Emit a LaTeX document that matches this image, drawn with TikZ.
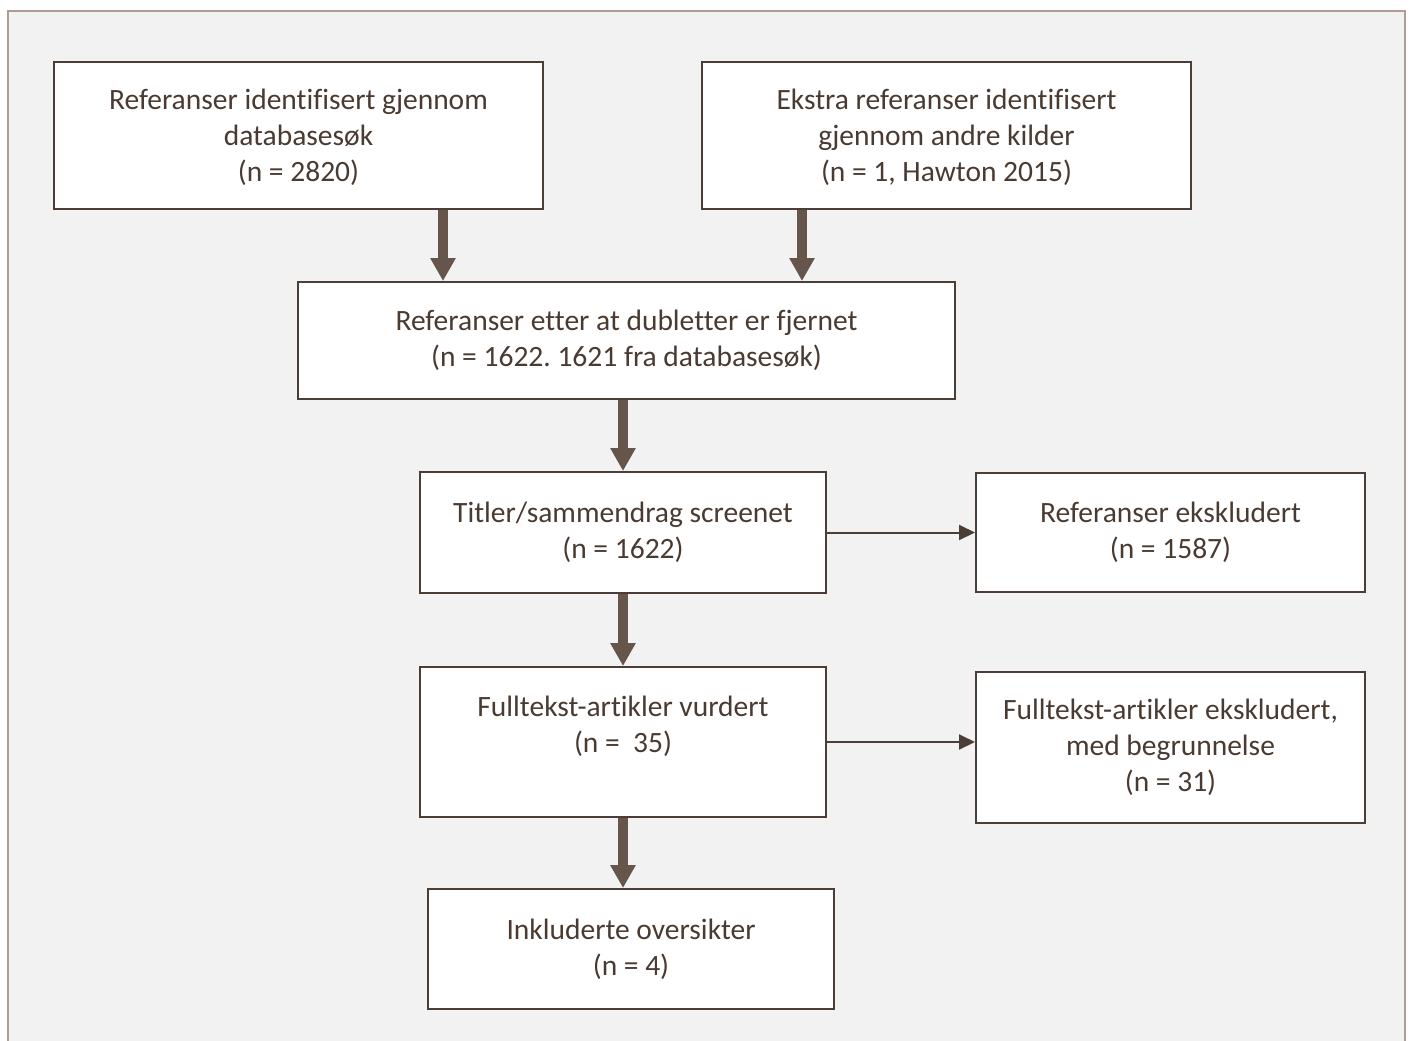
\documentclass[tikz,border=0pt]{standalone}
\usepackage{fontspec}
\setmainfont{Carlito}[Ligatures=CommonOff]
\usetikzlibrary{arrows.meta}
\frenchspacing
\definecolor{framegray}{HTML}{B09C94}
\definecolor{panel}{HTML}{F2F2F2}
\definecolor{boxline}{HTML}{4B3E36}
\definecolor{arrowbrown}{HTML}{66554A}
\definecolor{textbrown}{HTML}{4A3B32}
\begin{document}
\begin{tikzpicture}[x=1pt, y=-1pt, every node/.style={align=center}]
\tikzset{
  stagebox/.style={draw=boxline, line width=2pt, fill=white, inner sep=0pt,
    text=textbrown, font=\fontsize{29.5}{36}\selectfont},
  fatarrow/.style={draw=arrowbrown, line width=10pt,
    -{Triangle[width=24pt, length=23pt]}},
  thinarrow/.style={draw=boxline, line width=2pt,
    -{Triangle[width=15pt, length=16pt]}}
}
\useasboundingbox (0,0) rectangle (1413,1041);
\fill[white] (0,0) rectangle (1413,1041);
\fill[panel] (8,11) rectangle (1405,1045);
\draw[framegray, line width=2pt] (8,1045) -- (8,11) -- (1405,11) -- (1405,1045);

% boxes
\node[stagebox, minimum width=489pt, minimum height=147pt] (search) at (298.5,135.5)
  {Referanser identifisert gjennom\\databasesøk\\\smash{(n = 2820)}};
\node[stagebox, minimum width=489pt, minimum height=147pt] (other) at (946.5,135.5)
  {Ekstra referanser identifisert\\gjennom andre kilder\\\smash{(n = 1, Hawton 2015)}};
\node[stagebox, minimum width=657pt, minimum height=117pt] (dedup) at (626.5,340.5)
  {Referanser etter at dubletter er fjernet\\(n = 1622. 1621 fra databasesøk)};
\node[stagebox, minimum width=406pt, minimum height=121pt] (screen) at (623,532.5)
  {Titler/sammendrag screenet\\(n = 1622)};
\node[stagebox, minimum width=389pt, minimum height=119pt] (excl) at (1170.5,532.5)
  {Referanser ekskludert\\(n = 1587)};
\node[stagebox, minimum width=406pt, minimum height=150pt] (full) at (623,742)
  {Fulltekst-artikler vurdert\\(n = ~35)\\\rule{0pt}{0pt}};
\node[stagebox, minimum width=389pt, minimum height=151pt] (fullexcl) at (1170.5,747.5)
  {Fulltekst-artikler ekskludert,\\med begrunnelse\\(n = 31)};
\node[stagebox, minimum width=406pt, minimum height=120pt] (incl) at (631,949)
  {Inkluderte oversikter\\(n = 4)};

% arrows
\draw[fatarrow] ([xshift=144.5pt]search.south) -- ([xshift=144.5pt]search.south |- dedup.north);
\draw[fatarrow] ([xshift=-144.5pt]other.south) -- ([xshift=-144.5pt]other.south |- dedup.north);
\draw[fatarrow] (dedup.south -| screen.north) -- (screen.north);
\draw[fatarrow] (screen.south) -- (full.north);
\draw[fatarrow] (full.south) -- (full.south |- incl.north);
\draw[thinarrow] (screen.east) -- (excl.west);
\draw[thinarrow] (full.east) -- (full.east -| fullexcl.west);
\end{tikzpicture}
\end{document}
